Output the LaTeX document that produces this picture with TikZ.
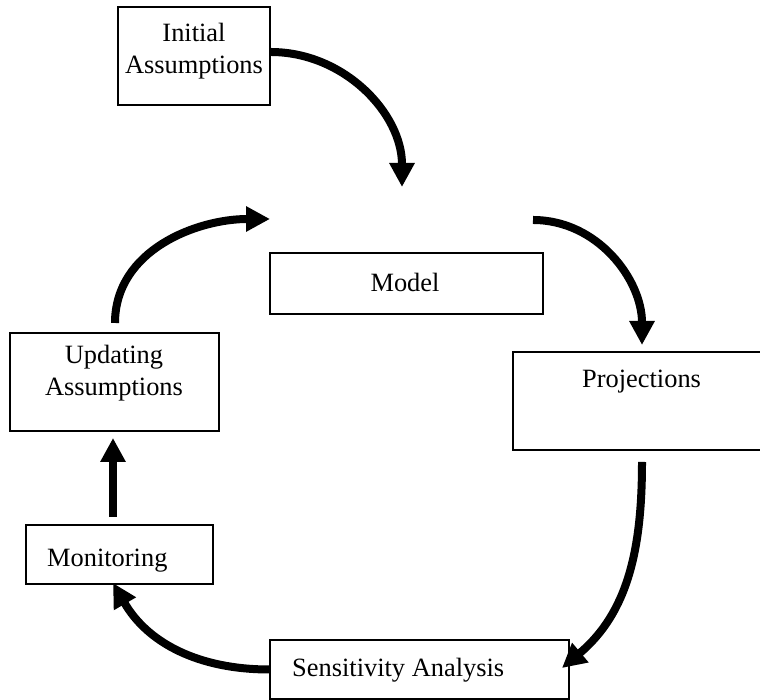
\documentclass[tikz,border=0pt]{standalone}
\usepackage{fontspec}
\setmainfont{Liberation Serif}
\usetikzlibrary{arrows.meta}
\tikzset{
  box/.style={draw,line width=1.2pt,inner sep=0pt},
  lbl/.style={inner sep=0pt,font=\fontsize{26.4}{31.7}\selectfont},
  cycle arrow/.style={line width=8pt,-{Triangle[length=24pt,width=24pt]}}
}
\begin{document}
\begin{tikzpicture}[x=1pt,y=1pt]
\useasboundingbox (0,0) rectangle (760,700);
% boxes
\node[box,minimum width=152pt,minimum height=98pt] (init) at (194,644) {};
\node[box,minimum width=273pt,minimum height=61pt] (model) at (406.5,416.5) {};
\node[box,minimum width=262pt,minimum height=98pt] (proj) at (644,299) {};
\node[box,minimum width=209pt,minimum height=98pt] (upd) at (114.5,318) {};
\node[box,minimum width=187pt,minimum height=59pt] (mon) at (119.5,145.5) {};
\node[box,minimum width=299pt,minimum height=59pt] (sens) at (419.5,30.5) {};
% texts
\node[lbl,align=center] (init-txt) at (194,649) {Initial\\Assumptions};
\node[lbl,anchor=base] (model-txt) at (405,408) {Model};
\node[lbl,anchor=base west] (proj-txt) at (582,312) {Projections};
\node[lbl,align=center] (upd-txt) at (114,327) {Updating\\Assumptions};
\node[lbl,anchor=base west] (mon-txt) at (47,133) {Monitoring};
\node[lbl,anchor=base west] (sens-txt) at (292,23) {Sensitivity Analysis};
% free ends of the arrows
\coordinate (a1) at (402,513);
\coordinate (a2s) at (533,480);
\coordinate (a2) at (642,355);
\coordinate (a3s) at (642,238);
\coordinate (a3) at (562,32);
\coordinate (a4) at (113,117);
\coordinate (a5s) at (113,183);
\coordinate (a5) at (113,262);
\coordinate (a6s) at (115,377);
\coordinate (a6) at (270,481);
% the cycle
\draw[cycle arrow] ([yshift=4pt]init.east) to[out=0,in=90] (a1);
\draw[cycle arrow] (a2s) to[out=0,in=90] (a2);
\draw[cycle arrow] (a3s) to[out=-90,in=40] (a3);
\draw[cycle arrow] (sens.west) to[out=180,in=-60] (a4);
\draw[cycle arrow] (a5s) -- (a5);
\draw[cycle arrow] (a6s) to[out=90,in=180] (a6);
\end{tikzpicture}
\end{document}
